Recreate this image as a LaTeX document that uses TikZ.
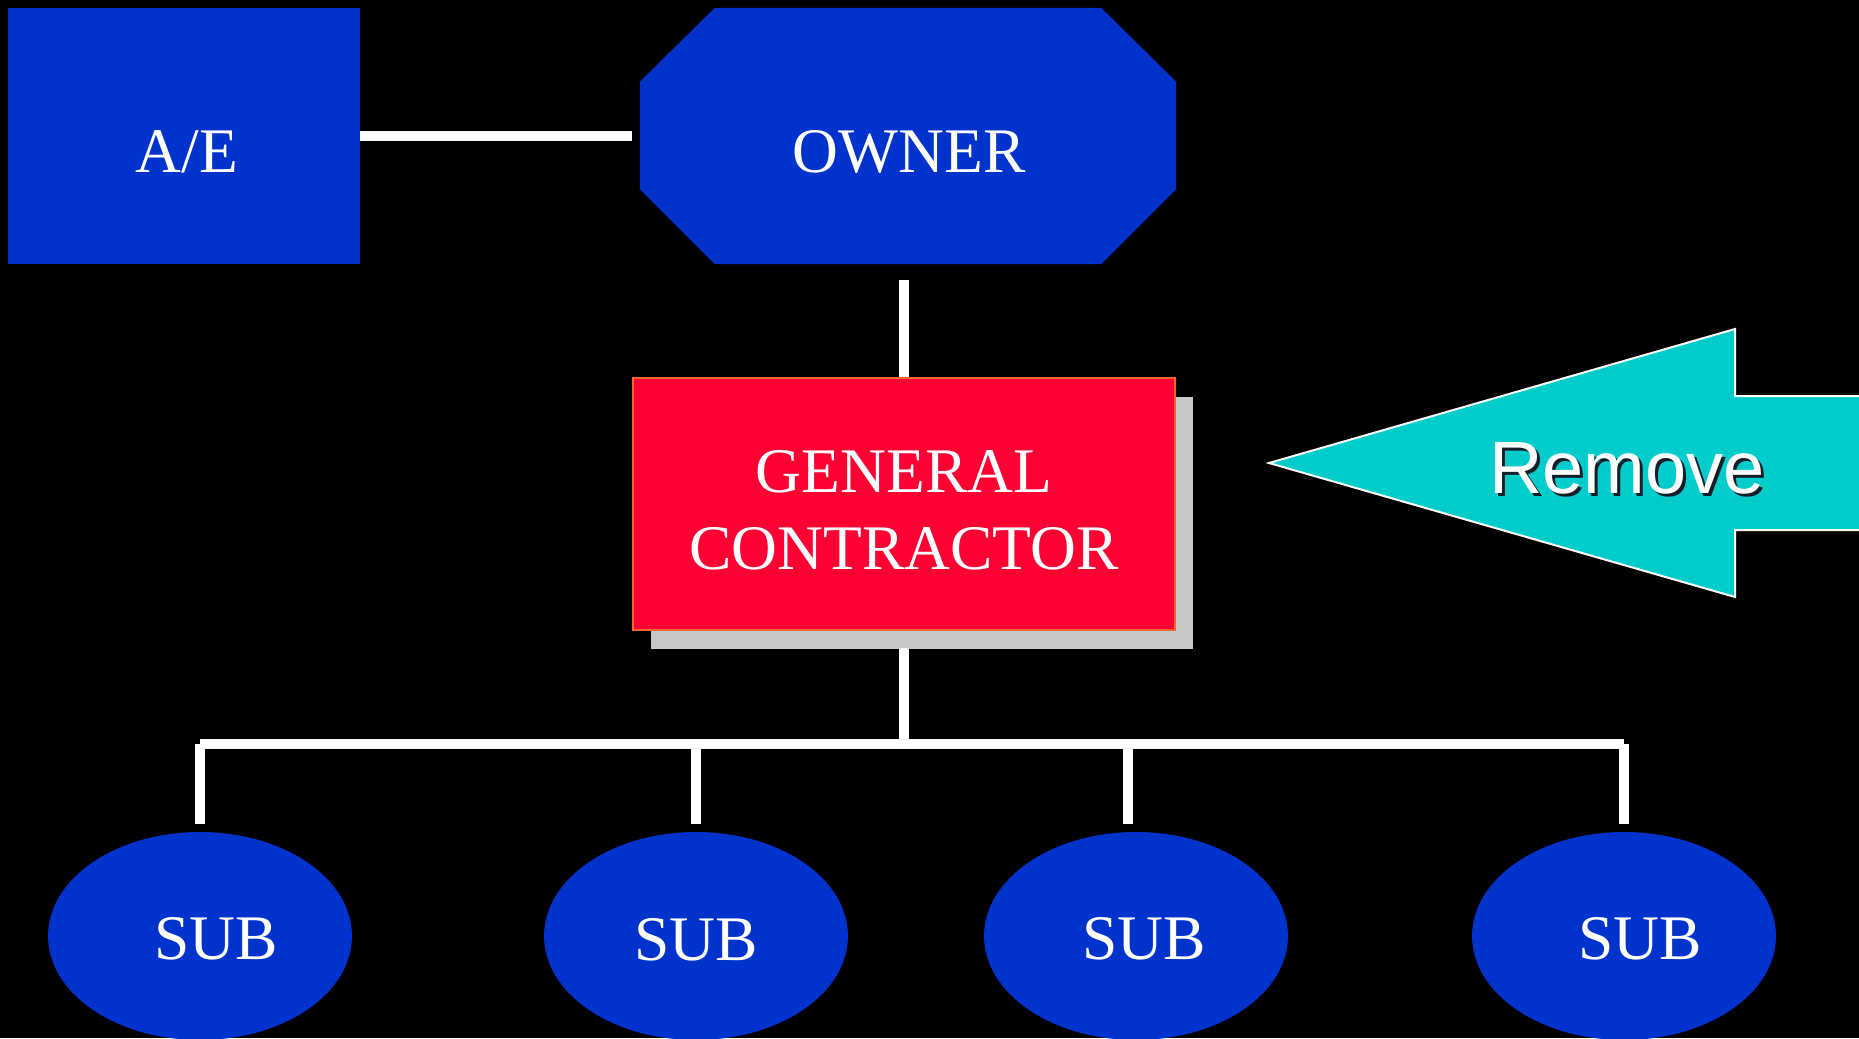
\documentclass[tikz,border=0pt]{standalone}
\usepackage{fontspec}
\setmainfont{Liberation Serif}
\newfontfamily\arialfont{Liberation Sans}
\usetikzlibrary{shapes.geometric,shadows}
\definecolor{boxblue}{RGB}{0,51,204}
\definecolor{gcred}{RGB}{255,0,51}
\definecolor{gcorange}{RGB}{255,102,51}
\definecolor{shadowgray}{RGB}{200,200,200}
\definecolor{arrowcyan}{RGB}{0,204,204}
\definecolor{textshadow}{RGB}{20,30,40}
\begin{document}
\begin{tikzpicture}[x=1pt,y=-1pt,
  conn/.style={draw=white, line width=10pt},
  blueshape/.style={fill=boxblue, draw=none, inner sep=0pt},
  subshape/.style={blueshape, ellipse, minimum width=304pt, minimum height=208pt},
  lbl/.style={text=white, inner sep=0pt, anchor=base, font=\fontsize{63.5}{76}\selectfont},
  removelbl/.style={inner sep=0pt, anchor=base, font=\arialfont\fontsize{74}{88}\selectfont}
]
\useasboundingbox (0,0) rectangle (1859,1038);
\fill[black] (0,0) rectangle (1859,1038);
\clip (0,0) rectangle (1859,1038);

% A/E
\node[blueshape, rectangle, minimum width=352pt, minimum height=256pt] (ae) at (184,136) {};
\node[lbl] (ae-t) at (187,172) {A/E};

% OWNER (octagon)
\node[rectangle, inner sep=0pt, minimum width=536pt, minimum height=256pt] (owner) at (908,136) {};
\fill[boxblue] ([xshift=75pt]owner.north west) -- ([xshift=-75pt]owner.north east)
  -- ([yshift=-74pt]owner.north east) -- ([yshift=75pt]owner.south east)
  -- ([xshift=-75pt]owner.south east) -- ([xshift=75pt]owner.south west)
  -- ([yshift=75pt]owner.south west) -- ([yshift=-74pt]owner.north west) -- cycle;
\node[lbl] (owner-t) at (909,172) {OWNER};

% GENERAL CONTRACTOR
\node[rectangle, fill=gcred, draw=gcorange, line width=2.5pt, minimum width=542pt, minimum height=252pt,
  general shadow={fill=shadowgray, draw=none, shadow xshift=18pt, shadow yshift=-19pt}] (gc) at (904,504) {};
\node[lbl] (gc-t1) at (904,492) {GENERAL};
\node[lbl] (gc-t2) at (904,569) {CONTRACTOR};

% Remove arrow
\filldraw[fill=arrowcyan, draw=white, line width=2pt]
  (1269,463) -- (1735,329) -- (1735,396) -- (1875,396) -- (1875,530)
  -- (1735,530) -- (1735,597) -- cycle;
\node[removelbl, text=textshadow] (remove-s) at (1630,496) {Remove};
\node[removelbl, text=white] (remove-t) at (1627,493) {Remove};

% SUBs
\node[subshape] (sub1) at (200,936) {};
\node[subshape] (sub2) at (696,936) {};
\node[subshape] (sub3) at (1136,936) {};
\node[subshape] (sub4) at (1624,936) {};
\node[lbl] (sub1-t) at (216,959) {SUB};
\node[lbl] (sub2-t) at (696,960) {SUB};
\node[lbl] (sub3-t) at (1144,959) {SUB};
\node[lbl] (sub4-t) at (1640,959) {SUB};

% bus junctions
\coordinate (jc) at (904,744);
\coordinate (j1) at (200,744);
\coordinate (j2) at (696,744);
\coordinate (j3) at (1128,744);
\coordinate (j4) at (1624,744);

% connectors
\draw[conn, shorten >=8pt] (ae.east) -- (owner.west);
\draw[conn, shorten <=16pt] (gc.north |- owner.south) -- (gc.north);
\draw[conn, shorten <=17pt] (gc.south) -- (jc);
\draw[conn] (j1) -- (j4);
\draw[conn, shorten >=8pt] (j1) -- (j1 |- sub1.north);
\draw[conn, shorten >=8pt] (j2) -- (j2 |- sub2.north);
\draw[conn, shorten >=8pt] (j3) -- (j3 |- sub3.north);
\draw[conn, shorten >=8pt] (j4) -- (j4 |- sub4.north);
\end{tikzpicture}
\end{document}
